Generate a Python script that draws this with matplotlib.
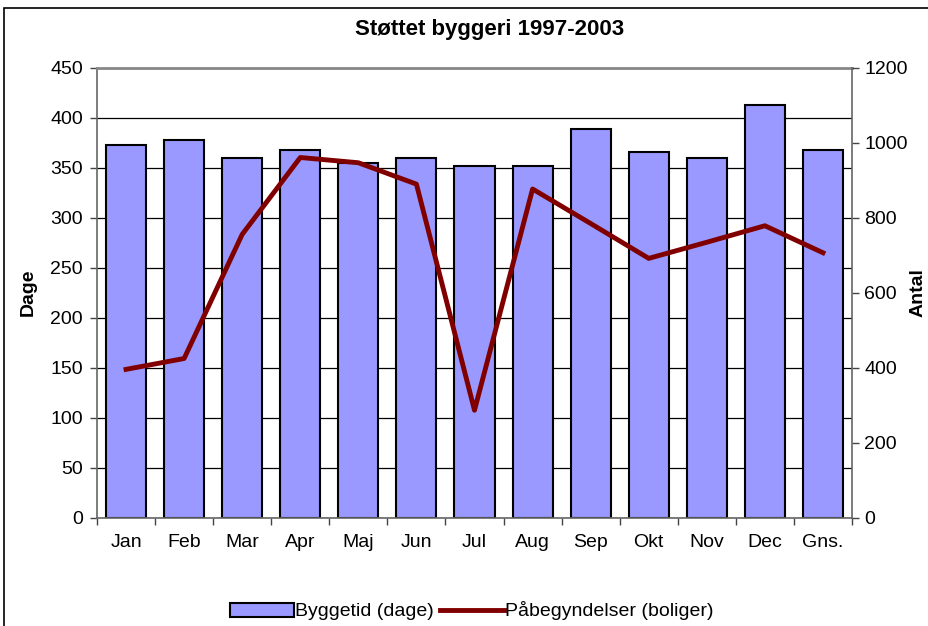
import matplotlib.pyplot as plt
import numpy as np
from matplotlib.patches import Rectangle

plt.rcParams['font.family'] = ['Liberation Sans', 'DejaVu Sans']

# data
months = ["Jan", "Feb", "Mar", "Apr", "Maj", "Jun", "Jul", "Aug", "Sep", "Okt", "Nov", "Dec", "Gns."]
byggetid = [373, 378, 360, 368, 355, 360, 352, 352, 389, 366, 360, 413, 368]
paabegyndelser = [395, 424, 755, 960, 946, 889, 286, 876, 784, 691, 734, 778, 706]

fig = plt.figure(figsize=(9.29, 6.26), dpi=100)
W, H = 929, 626
ax = fig.add_axes([97 / W, 1 - 517.5 / H, (852 - 97) / W, (517.5 - 67.5) / H])

x = np.arange(len(months))
ax.bar(x, byggetid, width=0.69, color="#9999FF", edgecolor="black", linewidth=1.5,
       label="Byggetid (dage)", zorder=2)
ax.set_xlim(-0.5, len(months) - 0.5)
ax.set_ylim(0, 450)
ax.set_yticks(range(0, 451, 50))
ax.yaxis.grid(True, color="black", linewidth=0.9, zorder=0)
ax.set_axisbelow(True)
ax.set_xticks(x)
ax.set_xticklabels(months)
ax.set_xticks(np.arange(-0.5, len(months), 1), minor=True)
ax.tick_params(axis="x", which="major", length=0, labelsize=14, pad=12)
ax.tick_params(axis="x", which="minor", length=5, width=1, color="#444444")
ax.tick_params(axis="y", length=5, width=1, labelsize=14, color="#444444", pad=5)
ax.set_ylabel("Dage", fontweight="bold", fontsize=14, labelpad=10)
ax.spines["top"].set_color("#888888")
ax.spines["top"].set_linewidth(2)
ax.spines["left"].set_color("#666666")
ax.spines["left"].set_linewidth(1.2)
ax.spines["bottom"].set_color("#666666")
ax.spines["bottom"].set_linewidth(1.2)
ax.spines["right"].set_visible(False)

ax2 = ax.twinx()
ax2.plot(x, paabegyndelser, color="#800000", linewidth=3.5, label="Påbegyndelser (boliger)", zorder=3)
ax2.set_ylim(0, 1200)
ax2.set_yticks(range(0, 1201, 200))
ax2.tick_params(axis="y", length=5, width=1, labelsize=14, color="#444444", pad=4)
ax2.set_ylabel("Antal", fontweight="bold", fontsize=14, rotation=90, labelpad=1)
ax2.spines["right"].set_color("#666666")
ax2.spines["right"].set_linewidth(1.2)
ax2.spines["top"].set_visible(False)
ax2.spines["left"].set_visible(False)
ax2.spines["bottom"].set_visible(False)

fig.text(490 / W, 1 - 30 / H, "Støttet byggeri 1997-2003", ha="center", va="center",
         fontsize=16, fontweight="bold")

h1, l1 = ax.get_legend_handles_labels()
h2, l2 = ax2.get_legend_handles_labels()
fig.legend(h1 + h2, l1 + l2, loc="center", bbox_to_anchor=(472 / W, 1 - 611 / H),
           ncol=2, frameon=False, fontsize=14, handlelength=3.3, handletextpad=0.05,
           columnspacing=0.3)

# outer chart frame
fig.patches.append(Rectangle((4 / W, -0.1), 1.0, 1 - 8 / H + 0.1, transform=fig.transFigure,
                             fill=False, edgecolor="black", linewidth=1.2))

fig.savefig("out.png", dpi=100)
